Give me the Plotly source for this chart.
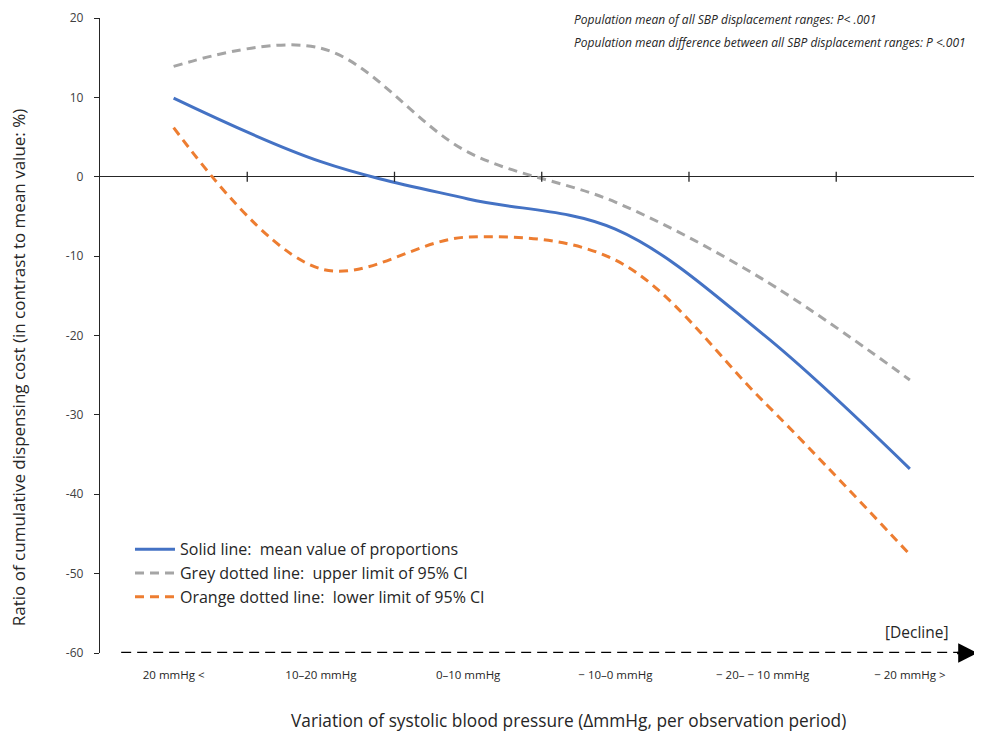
import plotly.graph_objects as go

categories = ["20 mmHg <", "10–20 mmHg", "0–10 mmHg", "− 10–0 mmHg", "− 20– − 10 mmHg", "− 20 mmHg >"]
mean_vals = [9.9, 1.9, -2.8, -6.6, -19.8, -36.8]
upper_vals = [13.9, 16.2, 3.1, -3.2, -12.9, -25.6]
lower_vals = [6.2, -11.6, -7.6, -10.5, -28.2, -47.6]

series_names = [
    "Solid line:  mean value of proportions",
    "Grey dotted line:  upper limit of 95% CI",
    "Orange dotted line:  lower limit of 95% CI",
]
note_lines = [
    "Population mean of all SBP displacement ranges: P< .001",
    "Population mean difference between all SBP displacement ranges: P <.001",
]
y_min, y_max, y_step = -60, 20, 10
y_ticks = list(range(y_min, y_max + 1, y_step))
y_tick_text = [str(v) for v in y_ticks]

FONT = "Open Sans, Lato, sans-serif"
xs = list(range(len(categories)))

fig = go.Figure()
fig.add_trace(go.Scatter(x=xs, y=mean_vals, mode="lines", name=series_names[0],
                         line=dict(color="#4472C4", width=3, shape="spline", smoothing=1)))
fig.add_trace(go.Scatter(x=xs, y=upper_vals, mode="lines", name=series_names[1],
                         line=dict(color="#A5A5A5", width=3, shape="spline", smoothing=1, dash="9px,6px")))
fig.add_trace(go.Scatter(x=xs, y=lower_vals, mode="lines", name=series_names[2],
                         line=dict(color="#ED7D31", width=3, shape="spline", smoothing=1, dash="9px,6px")))

# cross tick marks on the zero line between categories
for i in range(len(categories) - 1):
    fig.add_shape(type="line", xref="x", yref="y", x0=i + 0.5, x1=i + 0.5,
                  ysizemode="pixel", yanchor=0, y0=-5, y1=5,
                  line=dict(color="#262626", width=1.3))

# dashed "decline" arrow along the bottom
fig.add_shape(type="line", xref="paper", yref="y", x0=0.024, x1=0.976, y0=y_min, y1=y_min,
              line=dict(color="black", width=2.5, dash="10px,6px"))
fig.add_annotation(xref="paper", yref="y", x=0.995, y=y_min, ax=-22, ay=0,
                   axref="pixel", ayref="pixel", text="", showarrow=True,
                   arrowhead=2, arrowsize=1.55, arrowwidth=2.5, arrowcolor="black")
fig.add_annotation(xref="paper", yref="paper", x=0.926, y=0.033, text="[Decline]",
                   xanchor="center", yanchor="middle",
                   showarrow=False, font=dict(family=FONT, size=15.5, color="#262626"))

# notes
for k, t in enumerate(note_lines):
    fig.add_annotation(xref="paper", yref="paper", x=0.535, y=0.997 - k * 0.035,
                       xanchor="left", yanchor="middle", text="<i>" + t + "</i>",
                       showarrow=False, font=dict(family=FONT, size=12, color="#262626"))

# axis titles
fig.add_annotation(xref="paper", yref="paper", x=0.531, y=-0.107,
                   text="Variation of systolic blood pressure (ΔmmHg, per observation period)",
                   showarrow=False, xanchor="center", yanchor="middle",
                   font=dict(family=FONT, size=17.3, color="#262626"))
fig.add_annotation(xref="paper", yref="paper", x=-0.093, y=0.45, textangle=-90,
                   text="Ratio of cumulative dispensing cost (in contrast to mean value: %)",
                   showarrow=False, xanchor="center", yanchor="middle",
                   font=dict(family=FONT, size=17, color="#262626"))

# page body adds an 8px offset, so the figure is 8px smaller in each direction
fig.update_layout(
    width=974, height=727,
    margin=dict(l=92, r=0, t=10, b=82, autoexpand=False),
    plot_bgcolor="white", paper_bgcolor="white",
    font=dict(family=FONT, color="#404040"),
    showlegend=True,
    legend=dict(x=0.034, y=0.19, xanchor="left", yanchor="top",
                bgcolor="rgba(0,0,0,0)", font=dict(family=FONT, size=16, color="#262626"),
                tracegroupgap=0, itemwidth=40),
    xaxis=dict(range=[-0.5, 5.49], tickvals=xs, ticktext=categories,
               showgrid=False, zeroline=False, showline=False,
               ticks="outside", ticklen=11, tickcolor="rgba(0,0,0,0)",
               tickfont=dict(family=FONT, size=11.5, color="#262626")),
    yaxis=dict(range=[y_min, y_max], tickvals=y_ticks, ticktext=y_tick_text,
               showgrid=False, showline=True, linecolor="#262626", linewidth=1.3,
               ticks="outside", ticklen=5, tickcolor="#262626", ticklabelstandoff=8,
               zeroline=True, zerolinecolor="#262626", zerolinewidth=1.3,
               tickfont=dict(family=FONT, size=12, color="#404040")),
)

fig.write_html("out.html")
